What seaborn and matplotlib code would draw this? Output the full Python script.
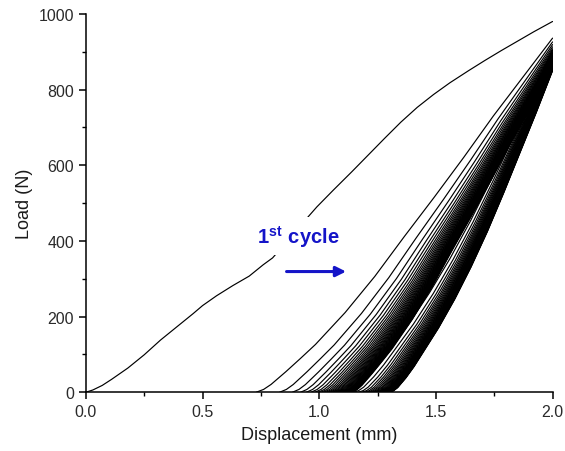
import numpy as np
import pandas as pd
import matplotlib
matplotlib.use("Agg")
import matplotlib.pyplot as plt
import seaborn as sns

# ---- data ---------------------------------------------------------------
# First loading cycle: displacement (mm) and load (N)
first_disp = [0.0, 0.03, 0.07, 0.11, 0.18, 0.25, 0.32, 0.40, 0.46, 0.50, 0.56,
              0.63, 0.70, 0.76, 0.80, 0.83, 0.87, 0.92, 0.99, 1.06, 1.14, 1.21,
              1.28, 1.35, 1.42, 1.49, 1.56, 1.64, 1.71, 1.78, 1.85, 1.92, 2.00]
first_load = [0, 6, 18, 34, 64, 99, 138, 178, 208, 229, 255,
              282, 307, 337, 355, 376, 405, 441, 490, 534, 583, 627,
              671, 714, 753, 787, 818, 850, 877, 903, 928, 953, 980]

# Curve shapes: fraction of travel (onset -> 2.0 mm) vs fraction of peak load
profile_u = [0.0, 0.025, 0.05, 0.10, 0.15, 0.20, 0.25, 0.30, 0.40, 0.50, 0.60, 0.70, 0.80, 0.90, 1.00]
reload_shape = [0.0, 0.008, 0.022, 0.058, 0.096, 0.135, 0.180, 0.225, 0.327, 0.440, 0.550, 0.663, 0.780, 0.890, 1.0]
unload_shape = [0.0, 0.005, 0.015, 0.045, 0.080, 0.120, 0.160, 0.200, 0.290, 0.390, 0.500, 0.620, 0.745, 0.870, 1.0]

# Reloading curves of the following cycles: contact displacement (mm) and peak load (N)
reload_onset = [0.730, 0.830, 0.885, 0.920, 0.945, 0.965, 0.982, 0.996, 1.008, 1.019,
                1.029, 1.038, 1.046, 1.053, 1.060, 1.066, 1.072, 1.077, 1.082, 1.087,
                1.091, 1.095, 1.099, 1.103, 1.106, 1.109, 1.112, 1.115, 1.118, 1.121,
                1.123, 1.125, 1.127, 1.129, 1.131, 1.133, 1.135, 1.137, 1.139, 1.141]
reload_peak = [936, 926, 919, 913, 908, 904, 900, 897, 894, 891,
               889, 887, 885, 883, 881, 880, 878, 877, 876, 875,
               874, 873, 872, 871, 870, 869, 868, 867, 866, 865,
               864, 863, 862, 861, 860, 859, 858, 857, 856, 855]

# Unloading curves: residual displacement (mm) and peak load (N)
unload_end = [1.120, 1.148, 1.168, 1.183, 1.195, 1.205, 1.214, 1.222, 1.229, 1.235,
              1.241, 1.246, 1.251, 1.255, 1.259, 1.263, 1.266, 1.269, 1.272, 1.275,
              1.277, 1.279, 1.281, 1.283, 1.285, 1.287, 1.289, 1.290, 1.291, 1.292,
              1.293, 1.294, 1.295, 1.296, 1.297, 1.298, 1.299, 1.300, 1.301, 1.302]
unload_peak = [905, 900, 896, 893, 890, 888, 886, 884, 882, 880,
               879, 878, 877, 876, 875, 874, 873, 872, 871, 870,
               869, 868, 867, 866, 865, 864, 863, 862, 861, 860,
               859, 858, 857, 856, 855, 854, 853, 852, 851, 850]

MAX_DISP = 2.0

# ---- assemble long-form table ------------------------------------------
frames = [pd.DataFrame({"disp": first_disp, "load": first_load, "curve": "c1"})]
u = np.array(profile_u)
for i, (s, p) in enumerate(zip(reload_onset, reload_peak)):
    frames.append(pd.DataFrame({"disp": s + u * (MAX_DISP - s),
                                "load": np.array(reload_shape) * p,
                                "curve": f"r{i}"}))
for i, (e, p) in enumerate(zip(unload_end, unload_peak)):
    frames.append(pd.DataFrame({"disp": e + u * (MAX_DISP - e),
                                "load": np.array(unload_shape) * p,
                                "curve": f"u{i}"}))
df = pd.concat(frames, ignore_index=True)

# ---- plot ----------------------------------------------------------------
sns.set_style("ticks")
plt.rcParams["font.family"] = ["Liberation Sans", "DejaVu Sans"]
plt.rcParams["mathtext.fontset"] = "custom"
plt.rcParams["mathtext.rm"] = "Liberation Sans"
plt.rcParams["mathtext.bf"] = "Liberation Sans:bold"

fig = plt.figure(figsize=(5.65, 4.52), dpi=100)
ax = fig.add_axes([0.152, 0.130, 0.826, 0.837])

sns.lineplot(data=df, x="disp", y="load", units="curve", estimator=None,
             sort=False, color="black", lw=0.85, legend=False, ax=ax)

ax.set_xlim(0, 2.0)
ax.set_ylim(0, 1000)
ax.set_xticks([0.0, 0.5, 1.0, 1.5, 2.0])
ax.set_xticks([0.25, 0.75, 1.25, 1.75], minor=True)
ax.set_yticks([0, 200, 400, 600, 800, 1000])
ax.set_yticks([100, 300, 500, 700, 900], minor=True)
ax.set_xticklabels(["0.0", "0.5", "1.0", "1.5", "2.0"])

for side in ("top", "right"):
    ax.spines[side].set_visible(False)
for side in ("left", "bottom"):
    ax.spines[side].set_linewidth(1.1)
    ax.spines[side].set_color("black")

ax.tick_params(which="major", direction="out", length=5, width=1.1,
               labelsize=11.5, labelcolor="#2a2a2a", color="black", pad=3.5)
ax.tick_params(which="minor", direction="out", length=3, width=1.0, color="black")

ax.set_xlabel("Displacement (mm)", fontsize=13, color="#1a1a1a", labelpad=5)
ax.set_ylabel("Load (N)", fontsize=13, color="#1a1a1a", labelpad=4)

blue = "#1414c8"
ax.text(0.733, 396, r"$\mathbf{1^{st}\ cycle}$", fontsize=14.5, color=blue,
        ha="left", va="baseline", zorder=5,
        bbox=dict(boxstyle="square,pad=0.3", fc="white", ec="none"))
ax.annotate("", xy=(1.115, 319), xytext=(0.86, 319),
            arrowprops=dict(arrowstyle="-|>", color=blue, lw=2.2,
                            mutation_scale=15, shrinkA=0, shrinkB=0),
            zorder=5)

fig.savefig("out.png", dpi=100)
